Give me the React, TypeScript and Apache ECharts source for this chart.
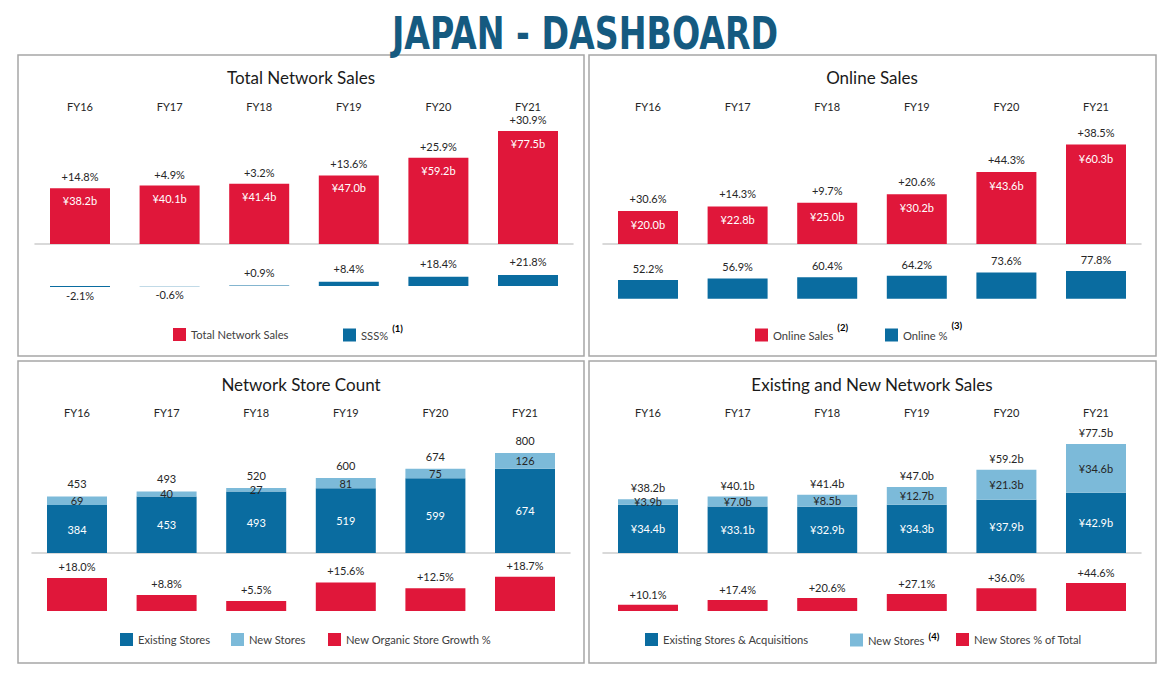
import React, { useEffect, useRef } from "react";
import * as echarts from "echarts";

const years = ["FY16", "FY17", "FY18", "FY19", "FY20", "FY21"];
const totalSales = [38.2, 40.1, 41.4, 47.0, 59.2, 77.5];
const totalSalesGrowth = [14.8, 4.9, 3.2, 13.6, 25.9, 30.9];
const sss = [-2.1, -0.6, 0.9, 8.4, 18.4, 21.8];
const onlineSales = [20.0, 22.8, 25.0, 30.2, 43.6, 60.3];
const onlineSalesGrowth = [30.6, 14.3, 9.7, 20.6, 44.3, 38.5];
const onlinePct = [52.2, 56.9, 60.4, 64.2, 73.6, 77.8];
const existingStores = [384, 453, 493, 519, 599, 674];
const newStores = [69, 40, 27, 81, 75, 126];
const totalStores = [453, 493, 520, 600, 674, 800];
const storeGrowth = [18.0, 8.8, 5.5, 15.6, 12.5, 18.7];
const existingSales = [34.4, 33.1, 32.9, 34.3, 37.9, 42.9];
const newStoreSales = [3.9, 7.0, 8.5, 12.7, 21.3, 34.6];
const networkSales = [38.2, 40.1, 41.4, 47.0, 59.2, 77.5];
const newStoresPct = [10.1, 17.4, 20.6, 27.1, 36.0, 44.6];

const RED = "#E0173A";
const BLUE = "#0A6CA0";
const LIGHT = "#7CBAD9";
const TXT = "#262626";
const FONT = "Lato, 'Open Sans', sans-serif";
const LBL = 11;

const yen = (v: number) => "¥" + v.toFixed(1) + "b";
const signed = (v: number) => (v >= 0 ? "+" : "") + v.toFixed(1) + "%";
const pct = (v: number) => v.toFixed(1) + "%";

const gridSpecs = [
  { left: 35.2, width: 537.6, base: 244, scale: 1.458, min: 0, max: 85, top: true, fy: 105 },
  { left: 35.2, width: 537.6, base: 286, scale: 0.5, min: -20, max: 40, top: false, fy: 0 },
  { left: 603.2, width: 537.6, base: 244, scale: 1.65, min: 0, max: 75, top: true, fy: 105 },
  { left: 603.2, width: 537.6, base: 298.7, scale: 0.356, min: 0, max: 100, top: false, fy: 0 },
  { left: 32.2, width: 537.6, base: 553, scale: 0.125, min: 0, max: 900, top: true, fy: 411 },
  { left: 32.2, width: 537.6, base: 611, scale: 1.83, min: 0, max: 25, top: false, fy: 0 },
  { left: 603.2, width: 537.6, base: 553, scale: 1.406, min: 0, max: 85, top: true, fy: 411 },
  { left: 603.2, width: 537.6, base: 611, scale: 0.63, min: 0, max: 60, top: false, fy: 0 },
];

const panels = [
  { x: 18, y: 55, w: 566, h: 301, title: "Total Network Sales", tx: 301, ty: 77 },
  { x: 589, y: 55, w: 567, h: 301, title: "Online Sales", tx: 872, ty: 77 },
  { x: 18, y: 361, w: 566, h: 302, title: "Network Store Count", tx: 301, ty: 384 },
  { x: 589, y: 361, w: 567, h: 302, title: "Existing and New Network Sales", tx: 872, ty: 384 },
];

const legendItems = [
  { name: "Total Network Sales", x: 173, y: 335 },
  { name: "SSS% (1)", x: 343, y: 335 },
  { name: "Online Sales (2)", x: 755, y: 335 },
  { name: "Online % (3)", x: 885, y: 335 },
  { name: "Existing Stores", x: 120, y: 640 },
  { name: "New Stores", x: 231, y: 640 },
  { name: "New Organic Store Growth %", x: 328, y: 640 },
  { name: "Existing Stores & Acquisitions", x: 645, y: 640 },
  { name: "New Stores (4)", x: 850, y: 640 },
  { name: "New Stores % of Total", x: 956, y: 640 },
];

const supShift: Record<string, number> = { "(1)": 7, "(2)": 8, "(3)": 10, "(4)": 4 };

export default function App() {
  const ref = useRef<HTMLDivElement>(null);
  useEffect(() => {
    document.body.style.margin = "0";
    const chart = echarts.init(ref.current!, null, { renderer: "svg" });

    const grids = gridSpecs.map((g) => ({
      left: g.left,
      width: g.width,
      top: g.base - g.max * g.scale,
      height: (g.max - g.min) * g.scale,
      containLabel: false,
    }));

    const xAxis: any[] = gridSpecs.map((g, i) => ({
      type: "category",
      gridIndex: i,
      data: years,
      position: "bottom",
      axisLine: { show: g.top, lineStyle: { color: "#D9D9D9", width: 2 } },
      axisTick: { show: false },
      axisLabel: { show: false },
      splitLine: { show: false },
    }));
    gridSpecs.forEach((g, i) => {
      if (!g.top) return;
      const gt = g.base - g.max * g.scale;
      xAxis.push({
        type: "category",
        gridIndex: i,
        data: years,
        position: "top",
        axisLine: { show: false },
        axisTick: { show: false },
        axisLabel: { margin: gt - g.fy - 7, fontSize: LBL, color: TXT, fontFamily: FONT },
      });
    });

    const yAxis = gridSpecs.map((g, i) => ({
      type: "value",
      gridIndex: i,
      min: g.min,
      max: g.max,
      show: false,
      splitLine: { show: false },
    }));

    const baseBar = (i: number) => ({
      type: "bar",
      xAxisIndex: i,
      yAxisIndex: i,
      barWidth: 60,
      barGap: "-100%",
    });
    const lbl = (extra: any) => ({
      show: true,
      fontSize: LBL,
      fontFamily: FONT,
      color: TXT,
      ...extra,
    });
    const overlay = (i: number, data: number[], fmt: (k: number) => string, dist: number) => ({
      ...baseBar(i),
      name: "_overlay" + i,
      data,
      silent: true,
      itemStyle: { color: "rgba(0,0,0,0)" },
      label: lbl({ position: "top", distance: dist, formatter: (p: any) => fmt(p.dataIndex) }),
      z: 5,
    });

    const series: any[] = [
      {
        ...baseBar(0),
        name: "Total Network Sales",
        data: totalSales,
        itemStyle: { color: RED },
        label: lbl({ position: "insideTop", distance: 7, color: "#fff", formatter: (p: any) => yen(p.value) }),
      },
      overlay(0, totalSales, (k) => signed(totalSalesGrowth[k]), 6),
      {
        ...baseBar(1),
        name: "SSS% (1)",
        data: sss.map((v) => ({
          value: v,
          label: { position: v < 0 ? "bottom" : "top", distance: v < 0 ? 3 : 8 },
        })),
        itemStyle: { color: BLUE },
        label: lbl({ formatter: (p: any) => signed(p.value) }),
      },
      {
        ...baseBar(2),
        name: "Online Sales (2)",
        data: onlineSales,
        itemStyle: { color: RED },
        label: lbl({ position: "insideTop", distance: 8, color: "#fff", formatter: (p: any) => yen(p.value) }),
      },
      overlay(2, onlineSales, (k) => signed(onlineSalesGrowth[k]), 7),
      {
        ...baseBar(3),
        name: "Online % (3)",
        data: onlinePct,
        itemStyle: { color: BLUE },
        label: lbl({ position: "top", distance: 6, formatter: (p: any) => pct(p.value) }),
      },
      {
        ...baseBar(4),
        name: "Existing Stores",
        stack: "stores",
        data: existingStores,
        itemStyle: { color: BLUE },
        label: lbl({ position: "inside", color: "#fff", formatter: (p: any) => String(p.value) }),
      },
      {
        ...baseBar(4),
        name: "New Stores",
        stack: "stores",
        data: newStores,
        itemStyle: { color: LIGHT },
        label: lbl({ position: "inside", formatter: (p: any) => String(p.value) }),
      },
      overlay(4, totalStores, (k) => String(totalStores[k]), 7),
      {
        ...baseBar(5),
        name: "New Organic Store Growth %",
        data: storeGrowth,
        itemStyle: { color: RED },
        label: lbl({ position: "top", distance: 6, formatter: (p: any) => signed(p.value) }),
      },
      {
        ...baseBar(6),
        name: "Existing Stores & Acquisitions",
        stack: "sales",
        data: existingSales,
        itemStyle: { color: BLUE },
        label: lbl({ position: "inside", color: "#fff", formatter: (p: any) => yen(p.value) }),
      },
      {
        ...baseBar(6),
        name: "New Stores (4)",
        stack: "sales",
        data: newStoreSales,
        itemStyle: { color: LIGHT },
        label: lbl({ position: "inside", formatter: (p: any) => yen(p.value) }),
      },
      overlay(6, networkSales, (k) => yen(networkSales[k]), 6),
      {
        ...baseBar(7),
        name: "New Stores % of Total",
        data: newStoresPct,
        itemStyle: { color: RED },
        label: lbl({ position: "top", distance: 5, formatter: (p: any) => signed(p.value) }),
      },
    ];

    const rich: any = { n: { fontSize: 11.2, color: "#404040", fontFamily: FONT } };
    Object.keys(supShift).forEach((k, idx) => {
      rich["s" + (idx + 1)] = {
        fontSize: 9.5,
        fontWeight: "bold",
        color: "#000",
        fontFamily: FONT,
        padding: [0, 0, supShift[k] * 2, 4],
      };
    });

    const legend = legendItems.map((it) => {
      const m = it.name.match(/^(.*) \((\d)\)$/);
      const h = m ? 5 + supShift["(" + m[2] + ")"] : 7;
      return {
        data: [it.name],
        left: it.x,
        top: it.y - h,
        padding: 0,
        icon: "rect",
        itemWidth: 13,
        itemHeight: 13,
        selectedMode: false,
        formatter: (name: string) => {
          const mm = name.match(/^(.*) \((\d)\)$/);
          return mm ? `{n|${mm[1]}}{s${mm[2]}|(${mm[2]})}` : `{n|${name}}`;
        },
        textStyle: { rich },
      };
    });

    const graphic: any[] = [
      {
        type: "text",
        x: 585,
        y: 34,
        scaleX: 0.84,
        scaleY: 1,
        style: {
          text: "JAPAN - DASHBOARD",
          fontSize: 44,
          fontWeight: "bold",
          fontFamily: "'Liberation Sans Narrow', 'DejaVu Sans Condensed', sans-serif",
          fill: "#155A80",
          align: "center",
          verticalAlign: "middle",
        },
      },
    ];
    panels.forEach((p) => {
      graphic.push({
        type: "rect",
        shape: { x: p.x, y: p.y, width: p.w, height: p.h },
        style: { fill: "none", stroke: "#A6A6A6", lineWidth: 1.5 },
        z: -10,
      });
      graphic.push({
        type: "text",
        x: p.tx,
        y: p.ty,
        style: {
          text: p.title,
          fontSize: 17,
          fontFamily: FONT,
          fill: "#1A1A1A",
          align: "center",
          verticalAlign: "middle",
        },
      });
    });

    chart.setOption({
      animation: false,
      backgroundColor: "#fff",
      textStyle: { fontFamily: FONT },
      grid: grids,
      xAxis,
      yAxis,
      series,
      legend,
      graphic,
    });
    return () => chart.dispose();
  }, []);
  return (
    <div
      ref={ref}
      style={{ position: "absolute", left: 0, top: 0, width: 1166, height: 674 }}
    />
  );
}
